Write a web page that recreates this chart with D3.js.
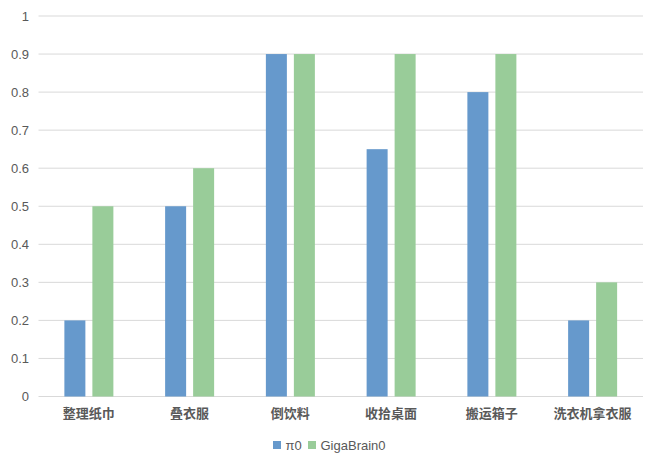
<!DOCTYPE html>
<html>
<head>
<meta charset="utf-8">
<script src="https://cdn.jsdelivr.net/npm/d3@7"></script>
<style>
  body { margin: 0; background: #fff; }
  text { font-family: "Liberation Sans", "Noto Sans CJK SC", sans-serif; }
</style>
</head>
<body>
<div id="chart"></div>
<script>
// data
const categories = ["整理纸巾", "叠衣服", "倒饮料", "收拾桌面", "搬运箱子", "洗衣机拿衣服"];
const seriesNames = ["π0", "GigaBrain0"];
const pi0Values = [0.2, 0.5, 0.9, 0.65, 0.8, 0.2];
const gigaValues = [0.5, 0.6, 0.9, 0.9, 0.9, 0.3];
const yTicks = [0, 0.1, 0.2, 0.3, 0.4, 0.5, 0.6, 0.7, 0.8, 0.9, 1];

const COLORS = ["#6699cc", "#99cc99"];

const W = 660, H = 467;
const plot = {left: 38.5, right: 643, top: 16, bottom: 396.5};

const svg = d3.select("#chart").append("svg")
  .attr("width", W).attr("height", H);

const x0 = d3.scaleBand()
  .domain(categories)
  .range([plot.left, plot.right])
  .padding(0);

const groupWidth = 49;
const x1 = d3.scaleBand()
  .domain(seriesNames)
  .range([0, groupWidth])
  .paddingInner(0.25);

const y = d3.scaleLinear()
  .domain([0, 1])
  .range([plot.bottom, plot.top]);

// gridlines
svg.append("g")
  .selectAll("line")
  .data(yTicks)
  .join("line")
  .attr("x1", plot.left).attr("x2", plot.right)
  .attr("y1", d => y(d)).attr("y2", d => y(d))
  .attr("stroke", "#d9d9d9")
  .attr("stroke-width", 1);

// y tick labels
svg.append("g")
  .selectAll("text")
  .data(yTicks)
  .join("text")
  .attr("x", 29)
  .attr("y", d => y(d))
  .attr("dy", "0.35em")
  .attr("text-anchor", "end")
  .attr("fill", "#595959")
  .style("font-size", "13px")
  .text(d => d3.format("~g")(d));

// bars
const rows = categories.map((c, i) => ({cat: c, vals: [pi0Values[i], gigaValues[i]]}));

const groups = svg.append("g")
  .selectAll("g")
  .data(rows)
  .join("g")
  .attr("transform", d => `translate(${x0(d.cat) + (x0.bandwidth() - groupWidth) / 2},0)`);

groups.selectAll("rect")
  .data(d => d.vals.map((v, j) => ({name: seriesNames[j], value: v, j: j})))
  .join("rect")
  .attr("x", d => x1(d.name))
  .attr("width", x1.bandwidth())
  .attr("y", d => y(d.value))
  .attr("height", d => y(0) - y(d.value))
  .attr("fill", d => COLORS[d.j]);

// category labels
svg.append("g")
  .selectAll("text")
  .data(categories)
  .join("text")
  .attr("x", d => x0(d) + x0.bandwidth() / 2)
  .attr("y", 413.5)
  .attr("dy", "0.35em")
  .attr("text-anchor", "middle")
  .attr("fill", "#595959")
  .style("font-size", "13px")
  .style("font-weight", "bold")
  .text(d => d);

// legend
const legend = svg.append("g").attr("transform", "translate(273,445)");
const legendX = [0, 35];
seriesNames.forEach((name, i) => {
  legend.append("rect")
    .attr("x", legendX[i]).attr("y", -4)
    .attr("width", 8).attr("height", 8)
    .attr("fill", COLORS[i]);
  legend.append("text")
    .attr("x", legendX[i] + 12.5)
    .attr("y", 0)
    .attr("dy", "0.35em")
    .attr("fill", "#595959")
    .style("font-size", "13px")
    .text(name);
});
</script>
</body>
</html>
